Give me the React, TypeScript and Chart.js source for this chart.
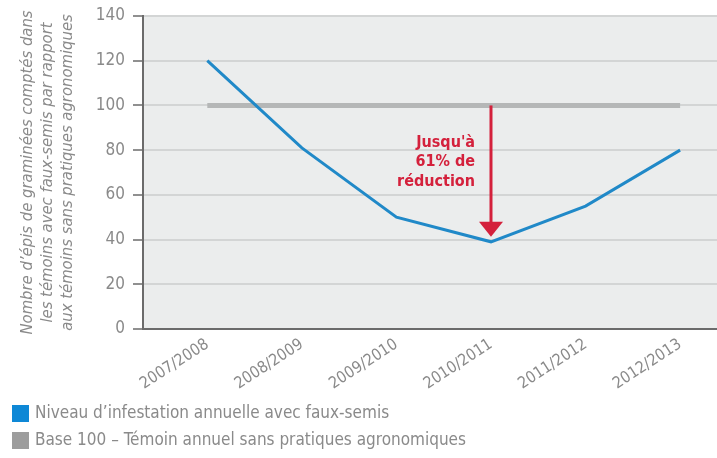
import React, { useEffect, useRef } from "react";
import { Chart, registerables } from "chart.js";

Chart.register(...registerables);

// Seasons on the x axis and the yearly infestation level (base 100 = untreated control)
const SEASONS = ["2007/2008", "2008/2009", "2009/2010", "2010/2011", "2011/2012", "2012/2013"];
const INFESTATION = [120, 81, 50, 39, 55, 80];
const BASELINE = [100, 100, 100, 100, 100, 100];
const Y_TICKS = [0, 20, 40, 60, 80, 100, 120, 140];

const Y_TITLE = [
  "Nombre d’épis de graminées comptés dans",
  "les témoins avec faux-semis par rapport",
  "aux témoins sans pratiques agronomiques",
];
const LEGEND_LABELS = [
  "Niveau d’infestation annuelle avec faux-semis",
  "Base 100 – Témoin annuel sans pratiques agronomiques",
];
const CALLOUT_LINES = ["Jusqu'à", "61% de", "réduction"];
const CALLOUT_INDEX = 3; // season where the reduction peaks

// x range leaves room on both sides of the first and last season
const X_MIN = -0.68;
const X_MAX = 5.39;

const FONT = "'DejaVu Sans Condensed', 'Liberation Sans', sans-serif";
const TEXT_GREY = "#8a8a8a";
const AXIS_GREY = "#6b6b6b";
const BLUE = "#2089c8";
const BASE_GREY = "#b5b7b7";
const RED = "#d4213c";

const plotBackground = {
  id: "plotBackground",
  beforeDraw(chart: any) {
    const { ctx, chartArea } = chart;
    ctx.save();
    ctx.fillStyle = "#ebeded";
    ctx.fillRect(chartArea.left, chartArea.top, chartArea.right - chartArea.left, chartArea.bottom - chartArea.top);
    ctx.restore();
  },
};

const reductionCallout = {
  id: "reductionCallout",
  afterDatasetsDraw(chart: any) {
    const { ctx, scales } = chart;
    const x = scales.x.getPixelForValue(CALLOUT_INDEX);
    const yTop = scales.y.getPixelForValue(BASELINE[CALLOUT_INDEX]);
    const yTip = scales.y.getPixelForValue(INFESTATION[CALLOUT_INDEX]) - 5;
    const headH = 15;
    const headW = 12;
    ctx.save();
    ctx.strokeStyle = RED;
    ctx.fillStyle = RED;
    ctx.lineWidth = 3;
    ctx.beginPath();
    ctx.moveTo(x, yTop);
    ctx.lineTo(x, yTip - headH + 1);
    ctx.stroke();
    ctx.beginPath();
    ctx.moveTo(x - headW, yTip - headH);
    ctx.lineTo(x + headW, yTip - headH);
    ctx.lineTo(x, yTip);
    ctx.closePath();
    ctx.fill();

    ctx.font = `bold 16px ${FONT}`;
    ctx.textAlign = "right";
    ctx.textBaseline = "middle";
    CALLOUT_LINES.forEach((line, i) => {
      ctx.fillText(line, x - 16, yTop + 37 + i * 19.5);
    });
    ctx.restore();
  },
};

const rowLegend = {
  id: "rowLegend",
  afterDraw(chart: any) {
    const { ctx } = chart;
    ctx.save();
    ctx.font = `17px ${FONT}`;
    ctx.textAlign = "left";
    ctx.textBaseline = "middle";
    chart.data.datasets.forEach((ds: any, i: number) => {
      const cy = 413 + i * 27;
      ctx.fillStyle = ds.borderColor === BASE_GREY ? "#9d9d9d" : "#0e88d6";
      ctx.fillRect(12, cy - 8, 17, 17);
      ctx.fillStyle = TEXT_GREY;
      ctx.fillText(ds.label, 35, cy + 1);
    });
    ctx.restore();
  },
};

export default function App() {
  const canvasRef = useRef<HTMLCanvasElement | null>(null);

  useEffect(() => {
    const canvas = canvasRef.current;
    if (!canvas) return;
    const chart = new Chart(canvas, {
      type: "line",
      data: {
        datasets: [
          {
            label: LEGEND_LABELS[0],
            data: SEASONS.map((_, i) => ({ x: i, y: INFESTATION[i] })),
            borderColor: BLUE,
            borderWidth: 3,
            pointRadius: 0,
            tension: 0,
          },
          {
            label: LEGEND_LABELS[1],
            data: SEASONS.map((_, i) => ({ x: i, y: BASELINE[i] })),
            borderColor: BASE_GREY,
            borderWidth: 5,
            borderCapStyle: "butt",
            pointRadius: 0,
          },
        ],
      },
      options: {
        animation: false,
        responsive: true,
        maintainAspectRatio: false,
        layout: { padding: { top: 16, left: 0, right: 0, bottom: 0 } },
        plugins: { legend: { display: false }, tooltip: { enabled: false } },
        scales: {
          x: {
            type: "linear",
            min: X_MIN,
            max: X_MAX,
            afterBuildTicks: (s: any) => {
              s.ticks = SEASONS.map((_, i) => ({ value: i }));
            },
            afterFit: (s: any) => {
              s.height = 129;
              s.paddingLeft = 0;
              s.paddingRight = 0;
            },
            grid: { display: false, drawTicks: false },
            border: { display: true, color: AXIS_GREY, width: 2 },
            ticks: {
              autoSkip: false,
              minRotation: 33,
              maxRotation: 33,
              padding: 6,
              color: TEXT_GREY,
              font: { family: FONT, size: 16 },
              callback: (v: any) => SEASONS[v] ?? "",
            },
          },
          y: {
            min: 0,
            max: 140,
            afterBuildTicks: (s: any) => {
              s.ticks = Y_TICKS.map((v) => ({ value: v }));
            },
            afterFit: (s: any) => {
              s.width = 143;
              s.paddingTop = 0;
              s.paddingBottom = 0;
            },
            grid: { color: "#d3d5d5", lineWidth: 2, tickColor: AXIS_GREY, tickLength: 10, tickWidth: 1.5 },
            border: { color: AXIS_GREY, width: 2 },
            ticks: { padding: 8, color: TEXT_GREY, font: { family: FONT, size: 17 } },
            title: {
              display: true,
              text: Y_TITLE,
              color: TEXT_GREY,
              font: { family: FONT, size: 16.5, style: "italic", lineHeight: 1.24 },
              padding: { top: 17, bottom: 0 },
            },
          },
        },
      },
      plugins: [plotBackground, reductionCallout, rowLegend],
    } as any);
    return () => chart.destroy();
  }, []);

  return (
    <div style={{ position: "absolute", left: 0, top: 0, width: 717, height: 458, background: "#fff" }}>
      <canvas ref={canvasRef} />
    </div>
  );
}
